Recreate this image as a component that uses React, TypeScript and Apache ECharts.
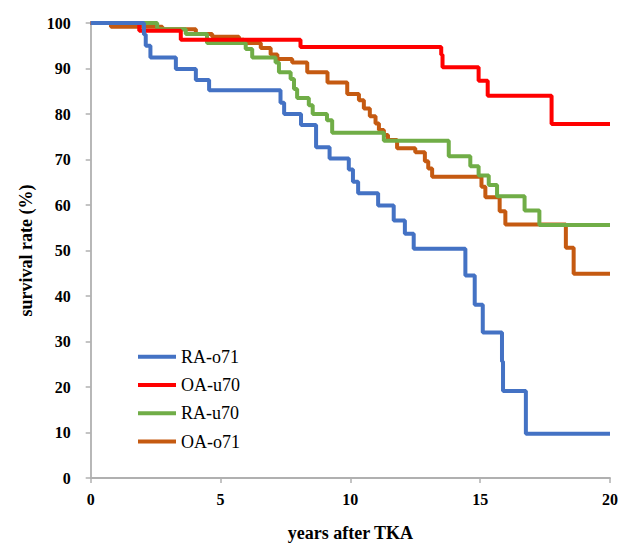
import React, { useEffect, useRef } from "react";
import * as echarts from "echarts";

const seriesNames = ["RA-o71", "OA-u70", "RA-u70", "OA-o71"];
const seriesColors = ["#4472C4", "#FF0000", "#70AD47", "#C55A11"];

const raO71: [number, number][] = [
  [0, 100], [2.05, 97.5], [2.12, 95], [2.3, 92.4], [3.28, 89.9], [4.05, 87.5], [4.56, 85.2],
  [7.31, 82.5], [7.45, 80], [8.1, 77.6], [8.68, 72.7], [9.2, 70.2], [9.94, 67.8], [10.1, 65.1],
  [10.3, 62.6], [11.07, 59.9], [11.67, 56.6], [12.1, 53.7], [12.44, 50.4], [14.43, 44.5],
  [14.79, 38.1], [15.1, 32.0], [15.84, 25.6], [15.88, 19.1], [16.76, 9.7], [20, 9.7],
];
const oaU70: [number, number][] = [
  [0, 100], [1.87, 98.3], [3.47, 96.3], [8.08, 94.7], [13.5, 93], [13.55, 90.3],
  [14.94, 87.3], [15.29, 84], [17.75, 77.8], [20, 77.8],
];
const raU70: [number, number][] = [
  [0, 100], [2.56, 98.6], [3.66, 97.6], [4.48, 95.6], [5.97, 94.3], [6.22, 92.4], [7.12, 91.3],
  [7.25, 89.2], [7.7, 87.7], [7.83, 85.5], [7.95, 83.5], [8.4, 81.9], [8.55, 80], [9.1, 78.6],
  [9.3, 75.9], [11.29, 74.1], [13.79, 70.7], [14.62, 68.5], [14.94, 66.5], [15.33, 64.4],
  [15.65, 61.9], [16.71, 58.8], [17.28, 55.6], [20, 55.6],
];
const oaO71: [number, number][] = [
  [0, 100], [0.78, 99.2], [2.76, 98.6], [4.05, 97.6], [4.68, 97.0], [5.71, 96.3], [5.9, 95.6],
  [6.55, 94.5], [6.93, 93.1], [7.19, 92.1], [7.76, 91.3], [8.34, 89.2], [9.12, 86.9],
  [9.88, 84.4], [10.33, 83.0], [10.52, 81.2], [10.75, 79.5], [10.97, 77.9], [11.1, 76.5],
  [11.29, 75.4], [11.45, 74.3], [11.8, 72.5], [12.5, 71.6], [12.87, 69.6], [13.0, 68],
  [13.15, 66.2], [15.05, 64.0], [15.2, 61.7], [15.75, 58.6], [15.97, 55.7], [18.3, 50.6],
  [18.6, 44.9], [20, 44.9],
];
const seriesData = [raO71, oaU70, raU70, oaO71];

const xTitle = "years after TKA";
const yTitle = "survival rate (%)";

export default function App() {
  const ref = useRef<HTMLDivElement>(null);
  useEffect(() => {
    if (!ref.current) return;
    const chart = echarts.init(ref.current, null, { renderer: "svg" });
    const font = "'Liberation Serif', 'Times New Roman', serif";
    const axisColor = "#b0b0b0";
    chart.setOption({
      animation: false,
      backgroundColor: "#ffffff",
      grid: { left: 90.7, right: 8.7, top: 23, bottom: 62, containLabel: false },
      legend: {
        orient: "vertical",
        left: 133,
        top: 341.7,
        icon: "rect",
        itemWidth: 38,
        itemHeight: 4,
        itemGap: 8.3,
        data: seriesNames,
        textStyle: { fontFamily: font, fontSize: 18, color: "#000", lineHeight: 20 },
      },
      xAxis: {
        type: "value",
        min: 0,
        max: 20,
        interval: 5,
        name: xTitle,
        nameLocation: "middle",
        nameGap: 46,
        nameTextStyle: { fontFamily: font, fontSize: 18, fontWeight: "bold", color: "#000" },
        axisLine: { show: true, lineStyle: { color: axisColor, width: 1.8 } },
        axisTick: { show: true, length: 5, lineStyle: { color: axisColor, width: 1.5 } },
        axisLabel: { margin: 13, fontFamily: font, fontSize: 16, fontWeight: "bold", color: "#000" },
        splitLine: { show: false },
      },
      yAxis: {
        type: "value",
        min: 0,
        max: 100,
        interval: 10,
        name: yTitle,
        nameLocation: "middle",
        nameGap: 56,
        nameTextStyle: { fontFamily: font, fontSize: 18, fontWeight: "bold", color: "#000" },
        axisLine: { show: true, lineStyle: { color: axisColor, width: 1.8 } },
        axisTick: { show: true, length: 5, lineStyle: { color: axisColor, width: 1.5 } },
        axisLabel: { margin: 20, fontFamily: font, fontSize: 16, fontWeight: "bold", color: "#000" },
        splitLine: { show: false },
      },
      series: seriesNames.map((name, i) => ({
        name,
        type: "line",
        step: "end",
        data: seriesData[i],
        showSymbol: false,
        symbol: "none",
        color: seriesColors[i],
        lineStyle: { color: seriesColors[i], width: 4 },
        z: 10 - i,
      })),
    });
    return () => chart.dispose();
  }, []);
  return (
    <div
      ref={ref}
      style={{ position: "fixed", left: 0, top: 0, width: 621, height: 547, background: "#fff" }}
    />
  );
}
